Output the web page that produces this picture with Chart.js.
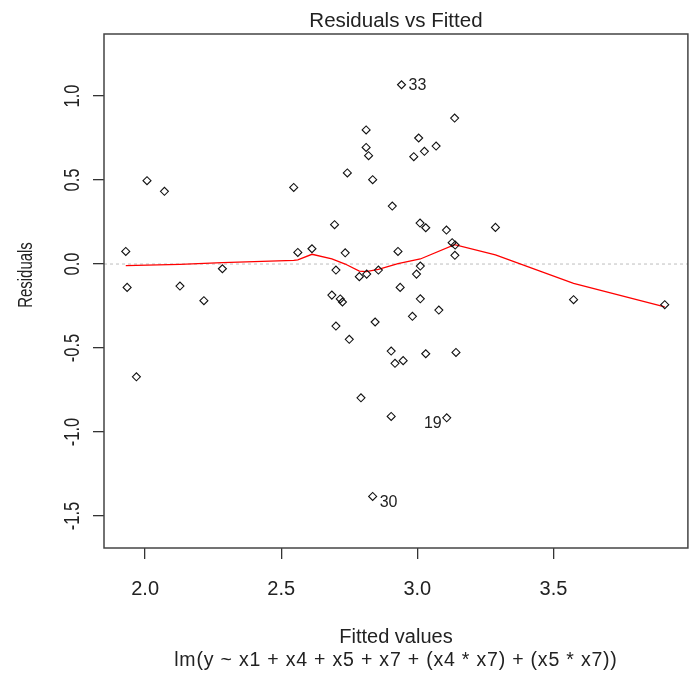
<!DOCTYPE html>
<html>
<head>
<meta charset="utf-8">
<title>Residuals vs Fitted</title>
<script src="https://cdn.jsdelivr.net/npm/chart.js@4/dist/chart.umd.min.js"></script>
<style>
  html, body { margin: 0; padding: 0; background: #fff; }
  #residPlot { display: block; }
</style>
</head>
<body>
<canvas id="residPlot" width="693" height="677"></canvas>
<script>
// fitted values and residuals of the lm fit
const fitted = [
  1.929, 1.934, 1.968, 2.007, 2.071, 2.128, 2.216, 2.284, 2.546, 2.561,
  2.613, 2.686, 2.696, 2.701, 2.701, 2.717, 2.725, 2.735, 2.743, 2.750,
  2.787, 2.793, 2.812, 2.812, 2.821, 2.814, 2.836, 2.836, 2.845, 2.857,
  2.904, 2.904, 2.908, 2.918, 2.929, 2.937, 2.942, 2.948, 2.982, 2.987,
  2.997, 3.005, 3.010, 3.011, 3.011, 3.026, 3.031, 3.031, 3.069, 3.079,
  3.107, 3.108, 3.128, 3.139, 3.138, 3.137, 3.142, 3.287, 3.574, 3.909
];
const resid = [
  0.075, -0.139, -0.671, 0.496, 0.433, -0.131, -0.218, -0.028, 0.456, 0.069,
  0.091, -0.185, 0.234, -0.036, -0.369, -0.208, -0.226, 0.067, 0.542, -0.448,
  -0.075, -0.796, 0.798, 0.694, 0.645, -0.060, 0.502, -1.383, -0.345, -0.036,
  -0.518, -0.907, 0.345, -0.591, 0.075, -0.139, 1.067, -0.575, -0.311, 0.639,
  -0.060, 0.750, 0.244, -0.012, -0.207, 0.671, 0.216, -0.534, 0.702, -0.274,
  0.202, -0.915, 0.127, 0.113, 0.052, 0.869, -0.526, 0.218, -0.212, -0.242
];

// observation numbers shown next to the largest residuals
const flaggedIdx = [36, 27, 51];
const flaggedText = ['33', '30', '19'];
const flaggedSide = ['right', 'right', 'left'];

// lowess smooth through the residuals
const smoothX = [
  1.929, 2.128, 2.284, 2.546, 2.561, 2.613, 2.686, 2.735, 2.787, 2.812,
  2.857, 2.929, 3.011, 3.137, 3.287, 3.574, 3.909
];
const smoothY = [
  -0.010, -0.002, 0.008, 0.022, 0.025, 0.058, 0.030, 0.000, -0.042, -0.045,
  -0.032, 0.002, 0.030, 0.115, 0.054, -0.115, -0.255
];

const xTicks = [2.0, 2.5, 3.0, 3.5];
const yTicks = [-1.5, -1.0, -0.5, 0.0, 0.5, 1.0];
const xRange = [1.849, 3.994];
const yRange = [-1.690, 1.369];

const mainTitle = 'Residuals vs Fitted';
const xTitle = 'Fitted values';
const subTitle = 'lm(y ~ x1 + x4 + x5 + x7 + (x4 * x7) + (x5 * x7))';
const yTitle = 'Residuals';

const FONT = '"Liberation Sans", Arial, sans-serif';
const INK = '#222';

const points = fitted.map((f, i) => ({ x: f, y: resid[i] }));
const smooth = smoothX.map((s, i) => ({ x: s, y: smoothY[i] }));

// vertical text: rotated, stretched across its height a bit
function vText(ctx, txt, x, y, size, sx, sy) {
  ctx.save();
  ctx.translate(x, y);
  ctx.rotate(-Math.PI / 2);
  ctx.scale(sx, sy);
  ctx.font = size + 'px ' + FONT;
  ctx.textAlign = 'center';
  ctx.textBaseline = 'alphabetic';
  ctx.fillText(txt, 0, 0);
  ctx.restore();
}

const rDecor = {
  id: 'rDecor',
  beforeDatasetsDraw(chart) {
    const { ctx, chartArea: a, scales } = chart;
    // dotted zero reference line
    const y0 = scales.y.getPixelForValue(0);
    ctx.save();
    ctx.strokeStyle = '#bdbdbd';
    ctx.lineWidth = 1;
    ctx.setLineDash([3, 3]);
    ctx.beginPath();
    ctx.moveTo(a.left, y0);
    ctx.lineTo(a.right, y0);
    ctx.stroke();
    ctx.restore();
  },
  afterDraw(chart) {
    const { ctx, chartArea: a, scales } = chart;
    const xs = scales.x, ys = scales.y;
    const cx = (a.left + a.right) / 2;
    ctx.save();

    // plot frame
    ctx.strokeStyle = '#444';
    ctx.lineWidth = 1.5;
    ctx.strokeRect(a.left, a.top, a.right - a.left, a.bottom - a.top);

    ctx.fillStyle = INK;
    ctx.textAlign = 'center';
    ctx.textBaseline = 'alphabetic';
    ctx.font = '20.5px ' + FONT;
    ctx.fillText(mainTitle, cx, 27);

    ctx.font = '20px ' + FONT;
    xTicks.forEach(v => ctx.fillText(v.toFixed(1), xs.getPixelForValue(v), 595));

    ctx.fillText(xTitle, cx, 643);
    ctx.font = '19.5px ' + FONT;
    ctx.letterSpacing = '0.8px';
    ctx.fillText(subTitle, cx, 666);
    ctx.letterSpacing = '0px';

    yTicks.forEach(v => vText(ctx, v.toFixed(1), 79, ys.getPixelForValue(v), 18, 0.92, 1.2));
    vText(ctx, yTitle, 32, 275, 17, 0.88, 1.2);

    // point labels
    const dy = [1, 6, 6];
    ctx.font = '16px ' + FONT;
    ctx.textBaseline = 'middle';
    flaggedIdx.forEach((idx, k) => {
      const px = xs.getPixelForValue(fitted[idx]);
      const py = ys.getPixelForValue(resid[idx]) + dy[k];
      if (flaggedSide[k] === 'right') {
        ctx.textAlign = 'left';
        ctx.fillText(flaggedText[k], px + 7, py);
      } else {
        ctx.textAlign = 'right';
        ctx.fillText(flaggedText[k], px - 5, py);
      }
    });
    ctx.restore();
  }
};

new Chart(document.getElementById('residPlot'), {
  type: 'scatter',
  data: {
    datasets: [
      {
        data: points,
        pointStyle: 'rectRot',
        pointRadius: 4,
        pointHoverRadius: 4,
        borderWidth: 1.1,
        borderColor: '#111',
        backgroundColor: 'rgba(255,255,255,0)'
      },
      {
        type: 'line',
        data: smooth,
        borderColor: '#ff0000',
        borderWidth: 1.3,
        pointRadius: 0,
        tension: 0,
        fill: false
      }
    ]
  },
  options: {
    responsive: false,
    animation: false,
    devicePixelRatio: 1,
    events: [],
    layout: { padding: { top: 34, right: 2, left: 0, bottom: 0 } },
    plugins: {
      legend: { display: false },
      tooltip: { enabled: false },
      title: { display: false }
    },
    scales: {
      x: {
        type: 'linear',
        min: xRange[0],
        max: xRange[1],
        afterBuildTicks: s => { s.ticks = xTicks.map(v => ({ value: v })); },
        afterFit: s => { s.height = 129; },
        ticks: { display: false },
        border: { display: false },
        grid: {
          drawOnChartArea: false,
          drawTicks: true,
          tickLength: 11,
          color: '#333',
          lineWidth: 1.3
        }
      },
      y: {
        type: 'linear',
        min: yRange[0],
        max: yRange[1],
        afterBuildTicks: s => { s.ticks = yTicks.map(v => ({ value: v })); },
        afterFit: s => { s.width = 104; },
        ticks: { display: false },
        border: { display: false },
        grid: {
          drawOnChartArea: false,
          drawTicks: true,
          tickLength: 11,
          color: '#333',
          lineWidth: 1.3
        }
      }
    }
  },
  plugins: [rDecor]
});
</script>
</body>
</html>
